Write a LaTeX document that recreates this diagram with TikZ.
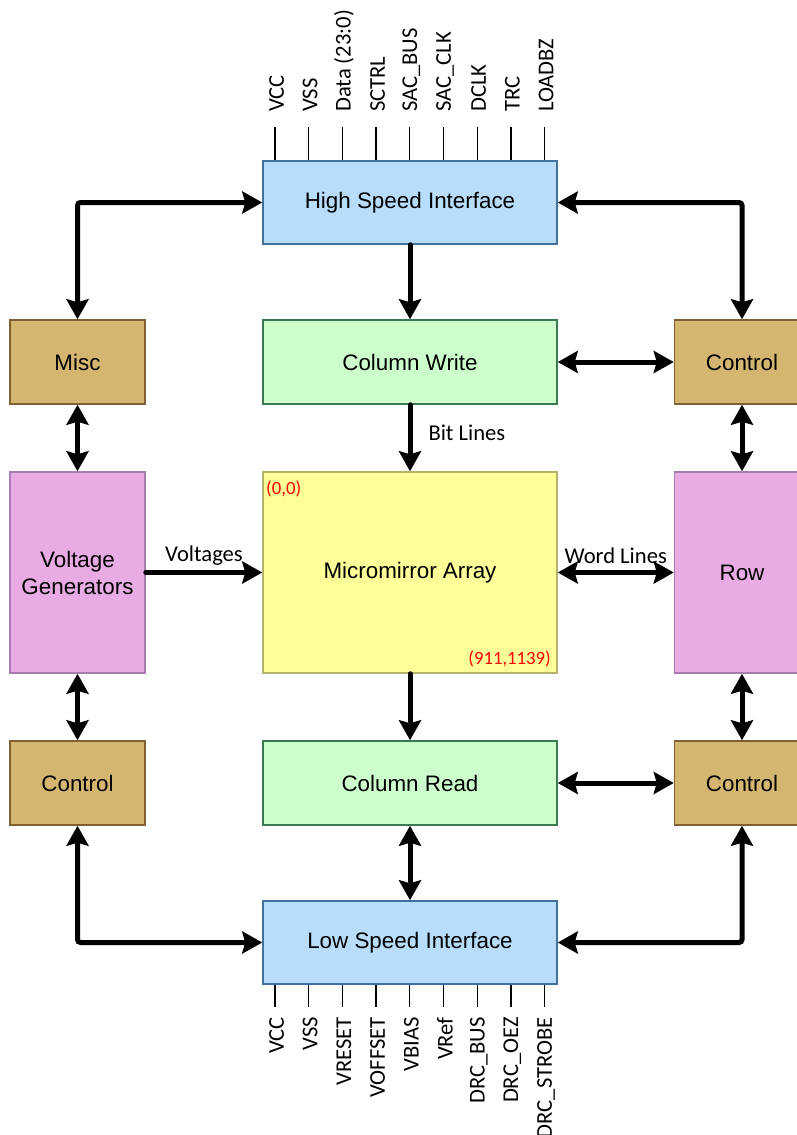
\documentclass[tikz,border=0pt]{standalone}
\usepackage{fontspec}
\newfontfamily\arialf{Liberation Sans}
\newfontfamily\calf{Carlito}
\usetikzlibrary{arrows.meta}
\definecolor{bluefill}{HTML}{B7DDFB}
\definecolor{blueline}{HTML}{41719C}
\definecolor{greenfill}{HTML}{CCFFCC}
\definecolor{greenline}{HTML}{3A7A50}
\definecolor{yellowfill}{HTML}{FFFF99}
\definecolor{yellowline}{HTML}{B3B36B}
\definecolor{tanfill}{HTML}{D4B670}
\definecolor{tanline}{HTML}{7F6032}
\definecolor{pinkfill}{HTML}{E8ABE3}
\definecolor{pinkline}{HTML}{A97CB0}
\tikzset{
  box/.style={draw, line width=1.5pt, inner sep=0pt, align=center,
    font=\arialf\fontsize{22.4}{27}\selectfont},
  iface/.style={box, fill=bluefill, draw=blueline, minimum width=294pt, minimum height=83pt},
  colbox/.style={box, fill=greenfill, draw=greenline, minimum width=294pt, minimum height=84pt},
  arraybox/.style={box, fill=yellowfill, draw=yellowline, minimum width=294pt, minimum height=201pt},
  tanbox/.style={box, fill=tanfill, draw=tanline, minimum width=135pt, minimum height=84pt},
  pinkbox/.style={box, fill=pinkfill, draw=pinkline, minimum width=135pt, minimum height=201pt},
  conn/.style={line width=5pt, line cap=round, rounded corners=3pt},
  tip/.tip={Stealth[length=20pt, width=22pt, inset=3pt]},
  one/.style={conn, -tip},
  two/.style={conn, tip-tip},
  lbl/.style={font=\calf\fontsize{22.6}{26}\selectfont, inner sep=0pt},
  pinlab/.style={lbl, rotate=90},
  pinline/.style={line width=1.3pt},
  redlab/.style={font=\calf\fontsize{18.7}{21}\selectfont, text=red, inner sep=0pt}
}
\begin{document}
\begin{tikzpicture}[x=1pt, y=-1pt]
\useasboundingbox (0,0) rectangle (797,1135);
\clip (0,0) rectangle (797,1135);
% boxes
\node[iface] (hsi) at (410,202.5) {High Speed Interface};
\node[colbox] (cw) at (410,362) {Column Write};
\node[arraybox] (ma) at (410,572.5) {Micromirror Array};
\node[colbox] (cr) at (410,783) {Column Read};
\node[iface] (lsi) at (410,942.5) {Low Speed Interface};
\node[tanbox] (misc) at (77.5,362) {Misc};
\node[pinkbox] (vg) at (77.5,572.5) {Voltage\\Generators};
\node[tanbox] (lc) at (77.5,783) {Control};
\node[tanbox] (rc1) at (742,362) {Control};
\node[pinkbox] (row) at (742,572.5) {Row};
\node[tanbox] (rc2) at (742,783) {Control};
% red coordinates
\node[redlab, anchor=west] (c00) at (266,489) {(0,0)};
\node[redlab, anchor=east] (cend) at (551,659) {(911,1139)};
% connectors
\draw[two] (misc.north) |- (hsi.west);
\draw[two] (hsi.east) -| (rc1.north);
\draw[one] (hsi.south) -- (cw.north);
\draw[two] (cw.east) -- (rc1.west);
\draw[one] (cw.south) -- (ma.north) node[lbl, pos=0.42, anchor=west, xshift=16pt] (bl) {Bit Lines};
\draw[two] (misc.south) -- (vg.north);
\draw[two] (rc1.south) -- (row.north);
\draw[one] (vg.east) -- (ma.west) node[lbl, midway, above=5pt] (vl) {Voltages};
\draw[two] (ma.east) -- (row.west) node[lbl, midway, above=6pt] (wl) {Word Lines};
\draw[two] (vg.south) -- (lc.north);
\draw[two] (row.south) -- (rc2.north);
\draw[one] (ma.south) -- (cr.north);
\draw[two] (cr.east) -- (rc2.west);
\draw[two] (cr.south) -- (lsi.north);
\draw[two] (lc.south) |- (lsi.west);
\draw[two] (rc2.south) |- (lsi.east);
% top pins
\foreach \lab [count=\i] in {VCC, VSS, {Data (23:0)}, SCTRL, SAC\_BUS, SAC\_CLK, DCLK, TRC, LOADBZ} {
  \coordinate (tp\i) at ({275+33.7*(\i-1)},127);
  \draw[pinline] (tp\i) -- (tp\i |- hsi.north);
  \node[pinlab, anchor=west] (tl\i) at ([xshift=1.5pt, yshift=15pt]tp\i) {\lab};
}
% bottom pins
\foreach \lab [count=\i] in {VCC, VSS, VRESET, VOFFSET, VBIAS, VRef, DRC\_BUS, DRC\_OEZ, DRC\_STROBE} {
  \coordinate (bp\i) at ({275+33.7*(\i-1)},1007);
  \draw[pinline] (bp\i |- lsi.south) -- (bp\i);
  \node[pinlab, anchor=east] (bl\i) at ([xshift=1.5pt, yshift=-10pt]bp\i) {\lab};
}
\end{tikzpicture}
\end{document}
